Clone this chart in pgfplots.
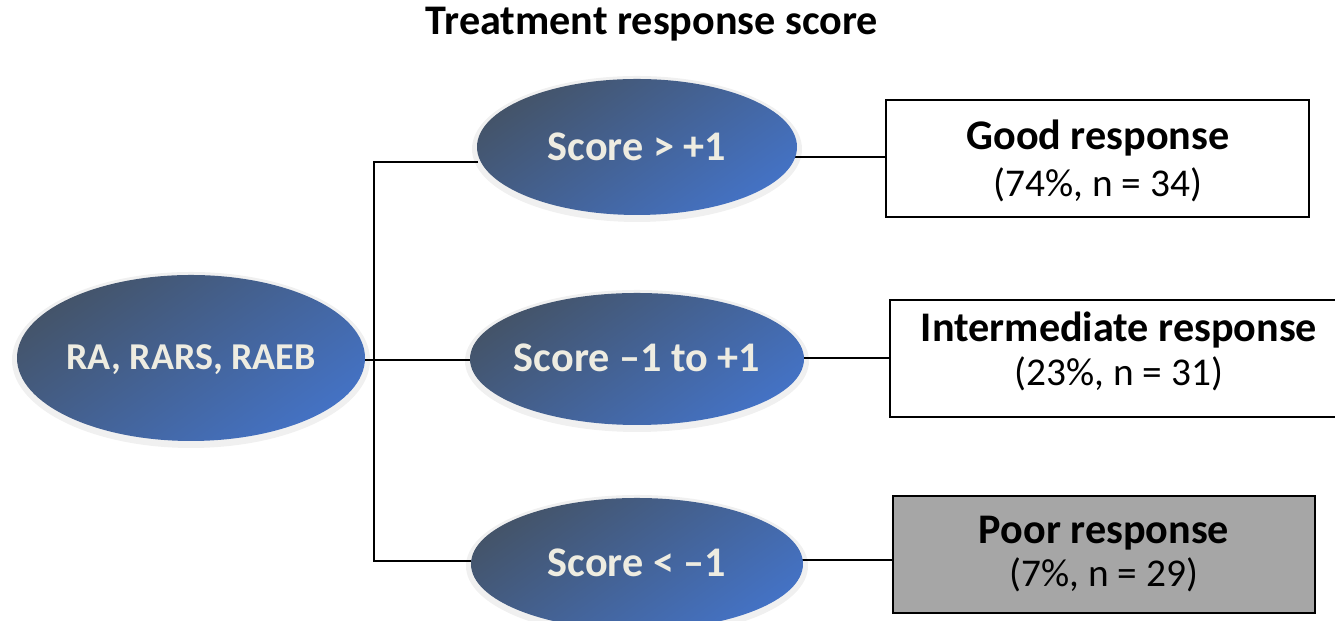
\documentclass[border=0pt]{standalone}
\usepackage{fontspec}
\setmainfont{Carlito}
\usepackage{pgfplots}
\pgfplotsset{compat=1.18}
\definecolor{ovalDark}{HTML}{44546A}
\definecolor{ovalLight}{HTML}{4472C4}
\definecolor{ovalText}{HTML}{EEECE1}
\definecolor{poorGray}{HTML}{A6A6A6}

\tikzset{
    oval/.style={top color=ovalDark, bottom color=ovalLight, shading angle=35},
    halo/.style={fill=black, opacity=0.06},
    ovaltxt/.style={anchor=base, text=ovalText, font=\fontsize{12}{14}\selectfont\bfseries},
    headtxt/.style={anchor=base, font=\fontsize{12}{14}\selectfont\bfseries},
    subtxt/.style={anchor=base, font=\fontsize{11.2}{13}\selectfont},
}

\begin{document}
\begin{tikzpicture}
\useasboundingbox (0,0) rectangle (13.35cm,6.21cm);
\begin{axis}[
    width=13.35cm, height=6.21cm,
    scale only axis,
    xmin=0, xmax=1335,
    ymin=0, ymax=621,
    hide axis,
    clip=false,
]

% connectors
\draw[line width=0.7pt] (axis cs:478,459) -- (axis cs:374,459) -- (axis cs:374,60) -- (axis cs:471,60);
\draw[line width=0.7pt] (axis cs:360,261) -- (axis cs:472,261);
\draw[line width=0.7pt] (axis cs:790,464) -- (axis cs:886,464);
\draw[line width=0.7pt] (axis cs:800,263) -- (axis cs:890,263);
\draw[line width=0.7pt] (axis cs:800,61) -- (axis cs:893,61);

% soft halo under ovals
\fill[halo] (axis cs:191,261) ellipse [x radius=179, y radius=88];
\fill[halo] (axis cs:637,472) ellipse [x radius=165, y radius=73];
\fill[halo] (axis cs:637,260) ellipse [x radius=172, y radius=71];
\fill[halo] (axis cs:637,55) ellipse [x radius=171, y radius=71];

% ovals
\shade[oval] (axis cs:191,263) ellipse [x radius=174, y radius=83];
\shade[oval] (axis cs:637,474) ellipse [x radius=160, y radius=68];
\shade[oval] (axis cs:637,262) ellipse [x radius=167, y radius=66];
\shade[oval] (axis cs:637,57) ellipse [x radius=166, y radius=66];

\node[ovaltxt, font=\fontsize{10.8}{13}\selectfont\bfseries] at (axis cs:191,251) {RA, RARS, RAEB};
\node[ovaltxt] at (axis cs:637,460) {Score > +1};
\node[ovaltxt] at (axis cs:637,249) {Score –1 to +1};
\node[ovaltxt] at (axis cs:637,44) {Score < –1};

% outcome boxes
\draw[line width=0.7pt, fill=white] (axis cs:886,404) rectangle (axis cs:1309,521);
\draw[line width=0.7pt, fill=white] (axis cs:890,204) rectangle (axis cs:1345,321);
\draw[line width=0.7pt, fill=poorGray] (axis cs:893,8) rectangle (axis cs:1315,125);

\node[headtxt] at (axis cs:1098,471) {Good response};
\node[subtxt] at (axis cs:1098,424) {(74\%, n = 34)};
\node[headtxt] at (axis cs:1119,279) {Intermediate response};
\node[subtxt] at (axis cs:1119,235) {(23\%, n = 31)};
\node[headtxt] at (axis cs:1104,77) {Poor response};
\node[subtxt] at (axis cs:1104,34) {(7\%, n = 29)};

% title
\node[headtxt] at (axis cs:652,586) {Treatment response score};
\end{axis}
\end{tikzpicture}
\end{document}
